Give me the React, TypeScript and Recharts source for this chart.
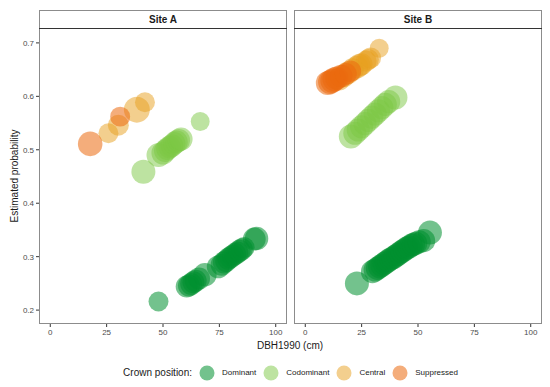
import { ScatterChart, Scatter, XAxis, YAxis, ZAxis } from "recharts";

// crown positions, in legend order
const crownPositions = ["Dominant", "Codominant", "Central", "Suppressed"];
const crownColors = ["#009030", "#7cc843", "#e8a01e", "#eb6a0f"];
const crownOpacity = [0.55, 0.5, 0.5, 0.55];

const xTicks = [0, 25, 50, 75, 100];
const yTicks = [0.2, 0.3, 0.4, 0.5, 0.6, 0.7];

// [DBH1990, estimated probability, point size]
const siteADominant = [
  [48, 0.216, 2.7], [60.5, 0.244, 3.3], [61.5, 0.246, 3.3], [62.5, 0.249, 3.3], [63.5, 0.252, 3.3],
  [64.5, 0.255, 3.3], [66, 0.259, 3.3], [68.6, 0.266, 3.8], [74.5, 0.281, 3.6], [76, 0.285, 3.3],
  [77, 0.289, 3.3], [78, 0.292, 3.3], [79, 0.296, 3.3], [80, 0.299, 3.3], [81, 0.302, 3.3],
  [82, 0.305, 3.3], [83, 0.308, 3.3], [84, 0.311, 3.3], [85, 0.314, 3.3], [86, 0.317, 3.0],
  [90.5, 0.333, 3.6], [91.5, 0.334, 3.8],
];
const siteACodominant = [
  [41.3, 0.459, 4.0], [48, 0.49, 4.0], [50, 0.494, 3.7], [51, 0.498, 3.5], [52, 0.502, 3.5],
  [53, 0.505, 3.5], [54, 0.508, 3.5], [55, 0.512, 3.5], [56, 0.515, 3.5], [57, 0.518, 3.5],
  [58, 0.52, 3.7], [66.5, 0.553, 2.4],
];
const siteACentral = [
  [25.8, 0.531, 2.7], [30.2, 0.546, 3.0], [38.4, 0.575, 4.7], [42, 0.589, 2.7],
];
const siteASuppressed = [
  [17.7, 0.511, 4.2], [31, 0.562, 2.7],
];

const siteBDominant = [
  [22.9, 0.25, 4.0], [29.8, 0.272, 3.7], [31, 0.275, 3.7], [32, 0.278, 3.7], [33, 0.281, 3.7],
  [34, 0.284, 3.7], [35, 0.287, 3.7], [36, 0.29, 3.7], [37, 0.293, 3.7], [38, 0.296, 3.7],
  [39, 0.298, 3.7], [40, 0.301, 3.7], [41, 0.304, 3.7], [42, 0.307, 3.7], [43, 0.31, 3.7],
  [44, 0.313, 3.7], [45, 0.316, 3.7], [46, 0.318, 3.7], [47, 0.321, 3.7], [48, 0.323, 3.7],
  [49, 0.325, 3.7], [50.5, 0.328, 3.7], [52.5, 0.33, 3.7], [55.3, 0.345, 4.0],
];
const siteBCodominant = [
  [20.2, 0.525, 4.0], [22, 0.531, 3.7], [23.5, 0.537, 3.7], [25, 0.543, 3.7], [26.5, 0.549, 3.7],
  [28, 0.555, 3.7], [29.5, 0.561, 3.7], [31, 0.567, 3.7], [32.5, 0.573, 3.7], [34, 0.579, 3.7],
  [35.5, 0.585, 3.7], [37, 0.59, 3.7], [40, 0.598, 4.0],
];
const siteBCentral = [
  [15, 0.632, 3.5], [17, 0.638, 3.5], [19, 0.644, 3.5], [21, 0.65, 3.5], [23, 0.655, 3.5],
  [24, 0.658, 3.5], [25, 0.66, 3.3], [27, 0.666, 3.0], [28, 0.669, 3.0], [29, 0.672, 3.0],
  [32.8, 0.69, 2.4],
];
const siteBSuppressed = [
  [10, 0.625, 4.0], [11, 0.627, 4.0], [12, 0.629, 4.0], [13, 0.632, 4.0], [14, 0.634, 3.7],
  [16, 0.638, 3.5], [18, 0.642, 3.3], [20, 0.647, 3.2],
];

const toPoints = (rows: number[][]) => rows.map(([x, y, z]) => ({ x, y, z }));

const sites = [
  { name: "Site A", series: [siteADominant, siteACodominant, siteACentral, siteASuppressed] },
  { name: "Site B", series: [siteBDominant, siteBCodominant, siteBCentral, siteBSuppressed] },
];

const font = "'Liberation Sans', Arial, Helvetica, sans-serif";
const tickStyle = { fontSize: 8, fill: "#4d4d4d", fontFamily: font };

function Panel({ index }: { index: number }) {
  const site = sites[index];
  const first = index === 0;
  const left = first ? 0 : 290;
  const width = first ? 290 : 260;
  const plotLeft = first ? 39 : 294;
  return (
    <>
      <div style={{ position: "absolute", left, top: 0 }}>
        <ScatterChart
          width={width}
          height={345}
          margin={{ top: 29, right: first ? 3 : 8, bottom: 1, left: first ? 9 : 4 }}
        >
          <XAxis
            type="number"
            dataKey="x"
            domain={[-5, 105]}
            ticks={xTicks}
            allowDataOverflow
            axisLine={false}
            tickLine={{ stroke: "#333" }}
            tickSize={3}
            height={20}
            tick={tickStyle}
          />
          <YAxis
            type="number"
            dataKey="y"
            domain={[0.174, 0.726]}
            ticks={yTicks}
            allowDataOverflow
            hide={!first}
            width={30}
            axisLine={false}
            tickLine={{ stroke: "#333" }}
            tickSize={3}
            tick={tickStyle}
            tickFormatter={(v: number) => v.toFixed(1)}
          />
          <ZAxis type="number" dataKey="z" domain={[1, 5]} range={[130, 560]} />
          {site.series.map((rows, i) => (
            <Scatter
              key={crownPositions[i]}
              name={crownPositions[i]}
              data={toPoints(rows)}
              fill={crownColors[i]}
              fillOpacity={crownOpacity[i]}
              isAnimationActive={false}
            />
          ))}
        </ScatterChart>
      </div>
      {/* panel border and strip */}
      <div
        style={{
          position: "absolute",
          left: plotLeft,
          top: 10,
          width: 248,
          height: 314,
          border: "1px solid #8c8c8c",
          boxSizing: "border-box",
          pointerEvents: "none",
        }}
      />
      <div
        style={{
          position: "absolute",
          left: plotLeft,
          top: 10,
          width: 248,
          height: 19,
          boxSizing: "border-box",
          borderBottom: "1px solid #333",
          display: "flex",
          alignItems: "center",
          justifyContent: "center",
          fontSize: 10,
          fontWeight: "bold",
          color: "#1a1a1a",
          fontFamily: font,
        }}
      >
        {site.name}
      </div>
    </>
  );
}

export default function App() {
  return (
    <div
      style={{
        position: "absolute",
        left: 0,
        top: 0,
        width: 550,
        height: 387,
        background: "#fff",
        fontFamily: font,
        overflow: "hidden",
      }}
    >
      <Panel index={0} />
      <Panel index={1} />
      {/* axis titles */}
      <div
        style={{
          position: "absolute",
          left: 14,
          top: 176,
          transform: "translate(-50%, -50%) rotate(-90deg)",
          fontSize: 10,
          whiteSpace: "nowrap",
          color: "#1a1a1a",
        }}
      >
        Estimated probability
      </div>
      <div
        style={{
          position: "absolute",
          left: 290,
          top: 345,
          transform: "translate(-50%, -50%)",
          fontSize: 10,
          whiteSpace: "nowrap",
          color: "#1a1a1a",
        }}
      >
        DBH1990 (cm)
      </div>
      {/* legend */}
      <div
        style={{
          position: "absolute",
          left: 0,
          width: 588,
          top: 364,
          height: 17,
          display: "flex",
          alignItems: "center",
          justifyContent: "center",
          color: "#1a1a1a",
        }}
      >
        <span style={{ fontSize: 10, marginRight: 7 }}>Crown position:</span>
        {crownPositions.map((name, i) => (
          <span key={name} style={{ display: "flex", alignItems: "center", marginRight: 7 }}>
            <svg width={16} height={16}>
              <circle cx={8} cy={8} r={7.5} fill={crownColors[i]} fillOpacity={crownOpacity[i]} />
            </svg>
            <span style={{ fontSize: 8, marginLeft: 7 }}>{name}</span>
          </span>
        ))}
      </div>
    </div>
  );
}
